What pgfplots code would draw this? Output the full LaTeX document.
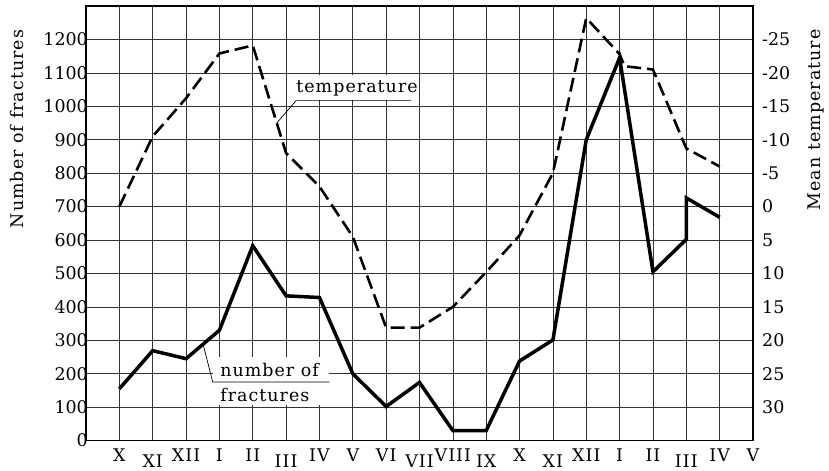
\documentclass[border=0pt]{standalone}
\usepackage{fontspec}
\setmainfont{DejaVu Serif}
\newfontfamily\spaced{DejaVu Serif}[LetterSpace=6]
\usepackage{pgfplots}
\pgfplotsset{compat=1.18}
\usetikzlibrary{calc}
\newcommand\dn[1]{\raisebox{-6bp}{#1}}
\begin{document}
\fontsize{17.5}{20}\selectfont
\begin{tikzpicture}
\begin{axis}[name=main,
  width=667bp, height=434.6bp, scale only axis,
  xmin=0, xmax=20, ymin=0, ymax=1300,
  xtick={1,...,20},
  xticklabels={X,\dn{XI},XII,I,II,\dn{III},IV,V,VI,\dn{VII},VIII,\dn{IX},X,\dn{XI},XII,I,II,\dn{III},IV,V},
  ytick={0,100,...,1200},
  yticklabels={0,100,200,300,400,500,600,700,800,900,1000,1100,1200},
  grid=major, major grid style={black!80, line width=0.7bp},
  major tick length=0pt,
  axis line style={line width=1.6bp},
  xticklabel style={anchor=base, yshift=-21bp, inner sep=0pt, font=\spaced},
  yticklabel style={anchor=east, inner sep=0pt, xshift=2bp},
  clip=false]
\fill[white] (axis cs:3.8,105) rectangle (axis cs:7.3,250);
\fill[white] (axis cs:6.25,1020) rectangle (axis cs:9.9,1095);
\addplot[black, line width=3.5bp] coordinates {
 (1,155) (2,269) (3,245) (4,330) (5,583) (6,433) (7,428) (8,200) (9,102) (10,174)
 (11,30) (12,30) (13,238) (14,301) (15,900) (16,1145) (17,505) (18,602) (18,726) (19,668)};
\node[anchor=base west, font=\spaced, inner sep=0pt] at (axis cs:6.3,1040) {temperature};
\draw[line width=0.7bp] (axis cs:5.72,950) -- (axis cs:6.3,1017) -- (axis cs:9.75,1017);
\node[anchor=base west, font=\spaced, inner sep=0pt] at (axis cs:4.02,193) {number of};
\node[anchor=base west, font=\spaced, inner sep=0pt] at (axis cs:4.02,118) {fractures};
\draw[line width=0.7bp] (axis cs:3.52,285) -- (axis cs:3.8,175) -- (axis cs:7.3,175);
\node[rotate=90, font=\spaced] at (rel axis cs:-0.103,0.717) {Number of fractures};
\node[rotate=90, font=\spaced] at (rel axis cs:1.094,0.738) {Mean temperature};
\end{axis}
\begin{axis}[
  width=667bp, height=434.6bp, scale only axis,
  xmin=0, xmax=20, ymin=-30, ymax=35, y dir=reverse,
  axis y line*=right, axis x line=none,
  ytick={-25,-20,...,30},
  yticklabels={-25,-20,-15,-10,-5,0,5,10,15,20,25,30},
  major tick length=0pt,
  axis line style={line width=1.6bp},
  yticklabel style={anchor=west, inner sep=0pt, xshift=9bp},
  clip=false]
\addplot[black, line width=2.6bp, dash pattern=on 14bp off 6bp] coordinates {
 (1,0) (2,-10.5) (3,-16.2) (4,-22.9) (5,-24.1) (6,-8) (7,-3) (8,4.5) (9,18.1) (10,18.1)
 (11,15) (12,9.8) (13,4.3) (14,-5) (15,-28.2) (16,-22.8) (16.15,-21) (17,-20.5) (18,-8.7) (19,-6)};
\end{axis}
\pgfresetboundingbox
\path[use as bounding box] ($(main.south west)+(-86bp,-30.4bp)$) rectangle ($(main.north east)+(76bp,6bp)$);
\end{tikzpicture}
\end{document}
